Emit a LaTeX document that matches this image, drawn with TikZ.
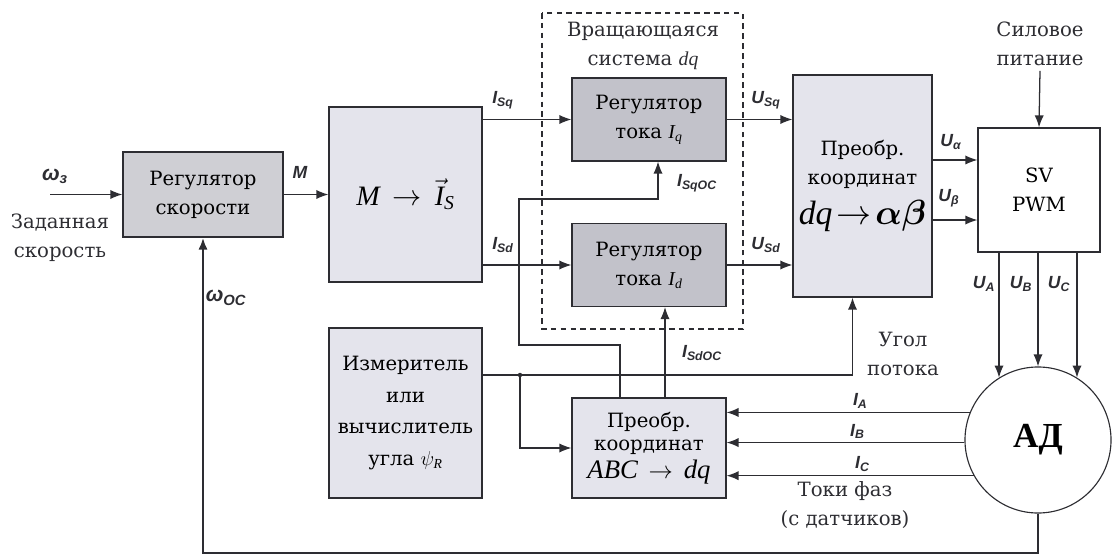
\documentclass[tikz,border=0pt]{standalone}
\usepackage{fontspec}
\usepackage{amsmath}
\setmainfont{DejaVu Serif}
\newfontfamily\lblfont{Liberation Sans}
\newfontfamily\ltfont{Liberation Serif}
\usetikzlibrary{arrows.meta, positioning, calc}
\definecolor{boxlight}{RGB}{228,228,236}
\definecolor{boxmid}{RGB}{207,207,212}
\definecolor{boxdark}{RGB}{194,194,202}
\definecolor{mydark}{RGB}{45,45,50}
\newcommand{\mvar}[1]{\text{\ltfont\itshape #1}}
\tikzset{
  block/.style={rectangle, draw=mydark, fill=boxlight, align=center,
    line width=0.8pt, font=\fontsize{14}{20.5}\selectfont},
  midblock/.style={block, fill=boxmid},
  darkblock/.style={block, fill=boxdark},
  whiteblock/.style={block, fill=white},
  motorcirc/.style={circle, draw=mydark, fill=white, line width=0.8pt,
    minimum size=3.65cm, font=\ltfont\fontsize{25}{27}\selectfont\bfseries},
  txt/.style={align=center, text=mydark, font=\fontsize{14}{20.5}\selectfont},
  sig/.style={text=mydark, font=\lblfont\bfseries\itshape\fontsize{12.5}{14}\selectfont},
  arrow/.style={-{Latex[length=3mm,width=2.3mm]}, line width=0.9pt, color=mydark},
  line/.style={line width=0.9pt, color=mydark},
  fbarrow/.style={arrow, line width=1.8pt}
}
\begin{document}
\begin{tikzpicture}[x=0.025cm, y=-0.025cm]
  \useasboundingbox (0,0) rectangle (1120,558);

  % Blocks
  \node[midblock, minimum width=4cm, minimum height=2.125cm] (speed_reg) at (203,194.5) {Регулятор\\скорости};
  \node[block, minimum width=3.825cm, minimum height=4.375cm] (m_to_i) at (405.5,194.5)
    {\fontsize{20}{22}\selectfont $\mvar{M}\,\rightarrow\,\vec{\mvar{I}}_{\mvar{S}}$};
  \node[darkblock, minimum width=3.85cm, minimum height=2.075cm] (reg_q) at (649,119.5) {Регулятор\\тока $\mvar{I}_{\mvar{q}}$};
  \node[darkblock, minimum width=3.85cm, minimum height=2.075cm] (reg_d) at (649,265) {Регулятор\\тока $\mvar{I}_{\mvar{d}}$};
  \node[block, minimum width=3.475cm, minimum height=5.55cm] (dq_ab) at (862.5,186)
    {Преобр.\\координат\\[0.3cm]{\fontsize{24}{26}\selectfont $\mvar{dq}\!\rightarrow\!\boldsymbol{\alpha\beta}$}};
  \node[whiteblock, minimum width=3.05cm, minimum height=3.1cm] (pwm) at (1039,190) {SV\\PWM};
  \node[block, minimum width=3.825cm, minimum height=4.25cm] (meter) at (405.5,413)
    {Измеритель\\[2pt]или\\[2pt]вычислитель\\[2pt]угла $\psi_{\mvar{R}}$};
  \node[block, minimum width=3.85cm, minimum height=2.5cm] (abc_dq) at (649,448)
    {Преобр.\\[-4pt]координат\\[-1pt]{\fontsize{19}{21}\selectfont $\mvar{ABC}\,\rightarrow\,\mvar{dq}$}};
  \node[motorcirc] (motor) at (1038,440) {АД};

  % Rotating frame
  \draw[line, dashed, dash pattern=on 4pt off 3pt] (542,13) rectangle (743,329);
  \node[txt] (frame_txt) at (643,46) {Вращающаяся\\система $\mvar{dq}$};

  % Texts
  \node[txt] (set_txt) at (60,238) {Заданная\\скорость};
  \node[txt] (pwr_txt) at (1040,44) {Силовое\\питание};
  \node[txt] (angle_txt) at (903,354) {Угол\\потока};
  \node[txt] (phase_txt) at (845,505) {Токи фаз\\(с датчиков)};

  % Signal labels
  \node[sig] (w_set) at (55,176) {\fontsize{15}{15}\selectfont ω\textsubscript{з}};
  \node[sig] (w_fb) at (226,298) {\fontsize{15}{15}\selectfont ω\textsubscript{ОС}};
  \node[sig] (m_lbl) at (300,172) {M};
  \node[sig] (isq) at (503,100) {I\textsubscript{Sq}};
  \node[sig] (isd) at (503,245) {I\textsubscript{Sd}};
  \node[sig] (isq_oc) at (697,183) {I\textsubscript{SqОС}};
  \node[sig] (isd_oc) at (702,353) {I\textsubscript{SdОС}};
  \node[sig] (usq) at (766,100) {U\textsubscript{Sq}};
  \node[sig] (usd) at (766,245) {U\textsubscript{Sd}};
  \node[sig] (ua) at (951,142) {U\textsubscript{α}};
  \node[sig] (ub) at (949,198) {U\textsubscript{β}};
  \node[sig] (u_a) at (984,284) {U\textsubscript{A}};
  \node[sig] (u_b) at (1021,284) {U\textsubscript{B}};
  \node[sig] (u_c) at (1059,284) {U\textsubscript{C}};

  % Speed loop
  \coordinate (w_in) at (50,194.5);
  \draw[arrow] (w_in) -- (speed_reg.west);
  \draw[arrow] (speed_reg.east) -- (m_to_i.west);
  \coordinate (fb) at (203,553);
  \draw[fbarrow] (motor.south) |- (fb) -- (speed_reg.south);

  % Current references
  \draw[arrow] (m_to_i.east |- reg_q.west) -- (reg_q.west);
  \draw[arrow] (m_to_i.east |- reg_d.west) -- (reg_d.west);
  \draw[arrow] (reg_q.east) -- (dq_ab.west |- reg_q.east);
  \draw[arrow] (reg_d.east) -- (dq_ab.west |- reg_d.east);

  % Voltages to PWM
  \coordinate (ua_in) at ([yshift=0.75cm]pwm.west);
  \coordinate (ub_in) at ([yshift=-0.75cm]pwm.west);
  \draw[arrow] (dq_ab.east |- ua_in) -- (ua_in);
  \draw[arrow] (dq_ab.east |- ub_in) -- (ub_in);
  \draw[arrow] (pwr_txt.south) -- (pwm.north);

  % Phase voltages
  \draw[arrow] (pwm.south -| motor.122) -- (motor.122);
  \draw[arrow] (pwm.south -| motor.north) -- (motor.north);
  \draw[arrow] (pwm.south -| motor.58) -- (motor.58);

  % Phase currents
  \draw[arrow] (motor.158) -- node[sig, pos=0.45, above=-1pt] (ia) {I\textsubscript{A}} (motor.158 -| abc_dq.east);
  \draw[arrow] (motor.182) -- node[sig, pos=0.45, above=-1pt] (ib) {I\textsubscript{B}} (motor.182 -| abc_dq.east);
  \draw[arrow] (motor.209) -- node[sig, pos=0.45, above=-1pt] (ic) {I\textsubscript{C}} (motor.209 -| abc_dq.east);

  % Feedback currents
  \coordinate (q_a) at (519,345);
  \coordinate (q_b) at (519,199);
  \draw[arrow] ([xshift=-0.725cm]abc_dq.north) |- (q_a) -- (q_b) -| ([xshift=0.225cm]reg_q.south);
  \draw[arrow] ([xshift=0.4cm]abc_dq.north) -- ([xshift=0.4cm]reg_d.south);

  % Flux angle
  \coordinate (ang) at ([yshift=0.95cm]meter.east);
  \coordinate (tap) at (520,375);
  \draw[arrow] (ang) -| ([xshift=-0.25cm]dq_ab.south);
  \draw[arrow] (tap) |- (abc_dq.west);
  \fill[mydark] (tap) circle (1.6pt);
\end{tikzpicture}
\end{document}
